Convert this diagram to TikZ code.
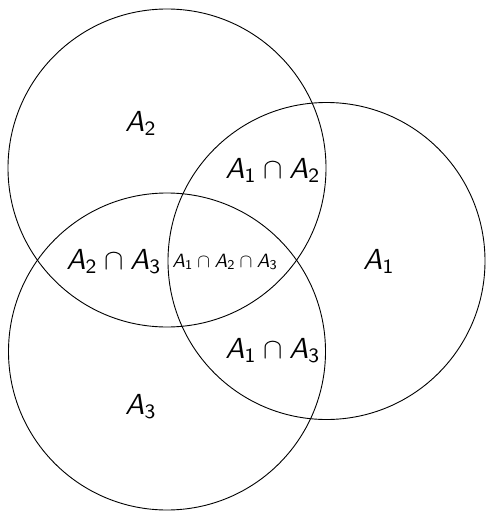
\documentclass[tikz,border=0pt]{standalone}
\DeclareMathAlphabet{\mathsfit}{OT1}{cmss}{m}{sl}
\newcommand{\Aset}[1]{\mathsfit{A}_{\mathsf{#1}}}
\begin{document}
\begin{tikzpicture}[x=1pt,y=-1pt,
  setcircle/.style={draw=black,line width=0.9pt},
  biglabel/.style={anchor=base,inner sep=0pt,scale=2.9},
  smalllabel/.style={anchor=base,inner sep=0pt,scale=1.92}]
\useasboundingbox (0,0) rectangle (485,511);
\coordinate (c2) at (167,168);
\coordinate (c3) at (167,351.5);
\coordinate (c1) at (326.5,261);
\draw[setcircle] (c2) circle[radius=159];
\draw[setcircle] (c3) circle[radius=158.5];
\draw[setcircle] (c1) circle[radius=158.5];
\node[biglabel] (a2) at (141,131) {$\Aset{2}$};
\node[biglabel] (a3) at (141,414) {$\Aset{3}$};
\node[biglabel] (a1) at (379,269) {$\Aset{1}$};
\node[biglabel] (a12) at (273,178) {$\Aset{1}\cap\Aset{2}$};
\node[biglabel] (a13) at (273,358) {$\Aset{1}\cap\Aset{3}$};
\node[biglabel] (a23) at (114,269) {$\Aset{2}\cap\Aset{3}$};
\node[smalllabel] (a123) at (225,267) {$\Aset{1}\cap\Aset{2}\cap\Aset{3}$};
\end{tikzpicture}
\end{document}
